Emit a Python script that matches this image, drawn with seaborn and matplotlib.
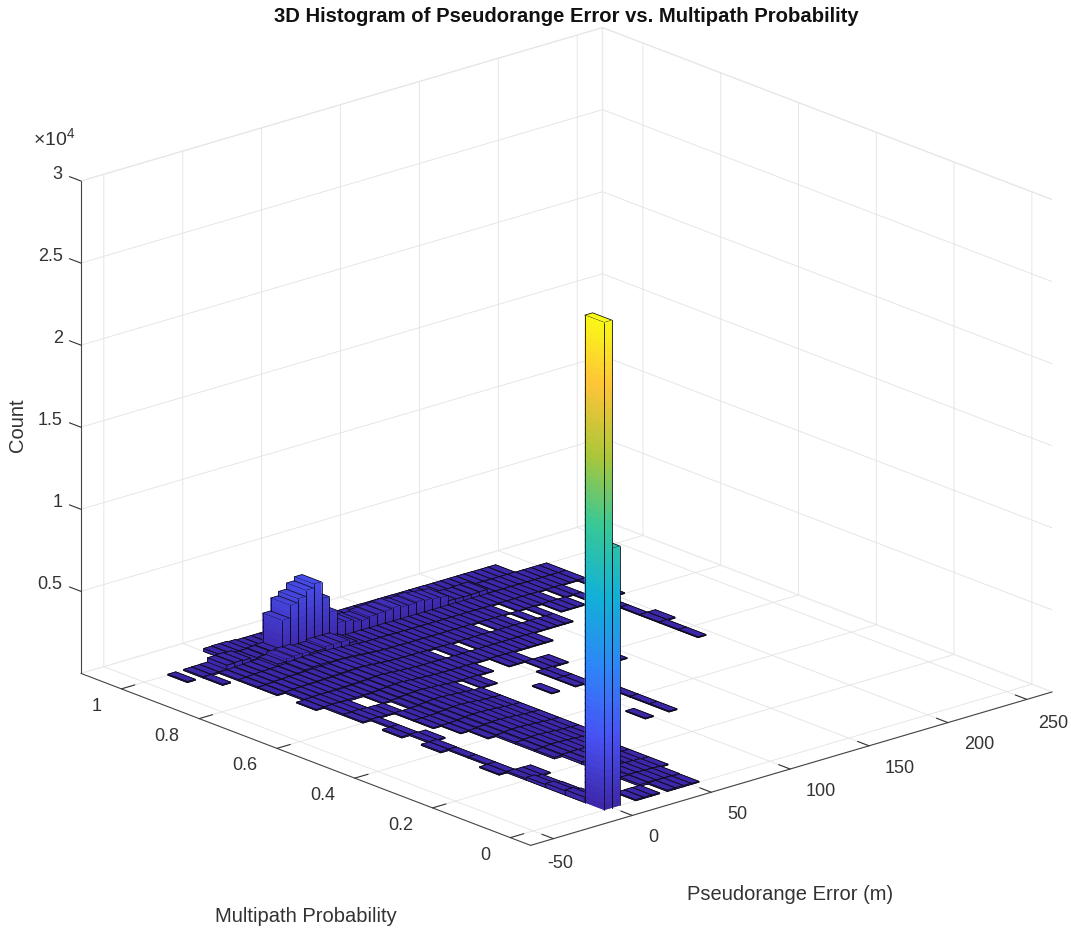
import numpy as np
import matplotlib
matplotlib.use("Agg")
import matplotlib.pyplot as plt
import matplotlib.transforms as mtransforms
import seaborn as sns

# Histogram bins: 5 m wide in error, 0.05 wide in probability
x_left = -50
x_bin = 5
y_bin = 0.05

# Counts per probability row, 60 error bins each
row_00 = [0,0,0,0,0,0,0,0,0,29700, 15800,0,0,60,70,60,0,70,80,70, 50,0,0,0,0,0,0,0,0,0, 0,0,0,0,0,0,0,0,0,0, 0,0,0,0,0,0,0,0,0,0, 0,0,0,0,0,0,0,0,0,0]
row_01 = [0,0,0,0,0,0,0,0,0,320, 150,0,0,0,0,0,100,120,110,90, 70,0,0,0,0,0,0,0,0,0, 0,0,0,0,0,0,0,0,0,0, 0,0,0,0,0,0,0,0,0,0, 0,0,0,0,0,0,0,0,0,0]
row_02 = [0,0,0,0,0,0,0,0,0,260, 110,0,0,0,0,0,110,130,120,100, 80,50,0,0,0,0,0,0,0,0, 0,0,0,0,0,0,0,0,0,0, 0,0,0,0,0,0,0,0,0,0, 0,0,0,0,0,0,0,0,0,0]
row_03 = [0,0,0,0,0,0,0,0,0,180, 80,0,0,0,0,0,120,140,130,110, 80,50,0,0,0,0,0,0,0,0, 0,0,0,0,0,0,0,0,0,0, 0,0,0,0,0,0,0,0,0,0, 0,0,0,0,0,0,0,0,0,0]
row_04 = [0,0,0,0,0,0,0,0,0,90, 70,60,0,0,0,0,130,150,130,110, 80,50,0,0,0,0,0,0,0,0, 0,0,0,0,0,0,0,0,0,0, 0,0,0,0,0,0,0,0,0,0, 0,0,0,0,0,0,0,0,0,0]
row_05 = [0,0,0,0,0,0,0,0,60,70, 0,0,0,0,0,90,140,160,140,110, 70,50,0,0,0,0,0,0,0,0, 0,0,0,0,0,0,0,0,0,0, 0,0,0,0,0,0,0,0,0,0, 0,0,0,0,0,0,0,0,0,0]
row_06 = [0,0,0,0,0,0,0,0,0,70, 0,0,0,0,0,100,140,170,150,120, 80,60,40,0,0,0,0,0,0,50, 0,0,50,0,0,0,0,0,0,0, 0,0,0,0,0,0,0,0,0,0, 0,0,0,0,0,0,0,0,0,0]
row_07 = [0,0,0,0,0,0,0,0,0,70, 0,0,0,0,0,100,150,170,150,120, 90,60,40,0,0,0,0,0,0,0, 0,0,50,0,0,0,0,0,0,0, 0,0,0,0,0,0,0,0,0,0, 0,0,0,0,0,0,0,0,0,0]
row_08 = [0,0,0,0,0,0,0,0,70,80, 0,0,0,0,60,110,150,180,160,130, 90,60,40,0,0,0,0,0,0,0, 0,0,50,0,0,0,0,0,0,0, 0,0,0,0,0,0,0,0,0,0, 0,0,0,0,0,0,0,0,0,0]
row_09 = [0,0,0,0,0,0,0,0,0,80, 60,0,0,50,70,110,160,180,160,130, 90,60,40,0,0,0,0,0,0,0, 0,50,50,0,0,0,0,0,0,0, 0,0,0,0,0,0,0,0,0,0, 0,0,0,0,0,0,0,0,0,0]
row_10 = [0,0,0,0,0,0,0,0,70,80, 0,0,60,60,70,120,160,190,170,130, 90,60,40,0,0,0,0,50,0,0, 50,50,0,0,0,0,0,0,0,0, 0,0,0,0,0,0,0,0,0,0, 0,0,0,0,0,0,0,0,0,0]
row_11 = [0,0,0,0,0,0,0,0,0,80, 0,0,60,60,70,120,170,190,170,130, 90,60,40,0,0,0,0,0,0,0, 50,50,0,0,0,0,0,0,50,0, 0,0,0,0,0,0,0,0,50,0, 0,0,0,0,0,0,0,0,0,0]
row_12 = [0,0,0,0,0,0,0,0,70,90, 70,60,50,0,80,130,170,200,170,140, 100,70,0,50,50,0,0,0,0,0, 0,50,50,50,0,0,0,0,0,0, 0,0,0,0,0,0,0,0,50,0, 0,0,0,0,0,0,0,0,0,0]
row_13 = [0,0,0,0,0,0,0,0,80,90, 70,0,0,60,90,140,180,210,180,140, 110,80,60,50,50,50,50,0,0,50, 50,50,0,0,0,0,0,0,0,0, 0,0,0,0,0,0,0,0,50,60, 0,0,0,0,0,0,0,0,0,0]
row_14 = [0,0,0,0,0,0,0,60,80,100, 100,90,90,100,120,150,190,220,190,150, 120,90,70,60,60,60,60,50,60,60, 60,60,60,50,50,50,50,0,0,0, 0,0,0,0,0,0,0,0,50,0, 0,0,0,0,0,0,0,0,0,0]
row_15 = [0,0,0,0,0,0,0,0,80,110, 120,120,130,140,160,180,210,230,200,160, 130,100,80,70,70,60,0,60,60,0, 60,60,60,60,60,60,50,50,50,50, 50,50,0,0,0,0,0,0,50,0, 0,0,0,0,0,0,0,0,0,0]
row_16 = [0,0,0,0,0,0,0,60,90,120, 140,150,170,190,210,230,250,260,230,190, 150,120,100,80,80,70,70,70,60,60, 60,60,60,60,0,50,50,50,0,50, 0,50,0,50,50,50,0,50,0,0, 50,0,0,0,0,0,0,0,0,0]
row_17 = [0,0,0,0,0,0,0,70,100,130, 150,170,200,260,300,320,300,300,280,240, 200,150,120,100,90,90,80,80,70,70, 70,70,60,60,60,60,60,50,50,0, 50,50,50,50,50,0,50,50,0,0, 50,0,0,0,0,0,0,0,0,0]
row_18 = [0,0,0,0,0,60,0,70,90,120, 150,160,300,450,500,500,400,400,500,500, 500,300,120,100,100,90,90,90,80,80, 80,70,70,70,60,60,60,60,60,60, 50,50,50,50,50,50,50,50,50,50, 50,0,0,0,0,0,0,0,0,0]
row_19 = [0,0,0,60,0,70,80,90,350,380, 350,200,200,250,300,2080,2860,3120,3490,3730, 2690,1710,920,850,700,650,750,780,800,860, 760,740,800,730,670,610,300,280,260,280, 300,60,60,60,60,60,60,50,50,50, 50,0,0,0,0,0,0,0,0,0]
row_20 = [0,0,0,0,0,0,0,0,0,0, 180,200,200,160,120,120,120,120,120,120, 110,110,100,100,100,100,100,90,90,90, 80,80,80,80,70,70,70,70,60,60, 60,60,60,60,50,50,50,0,0,0, 0,0,0,0,0,0,0,0,0,0]

x_ticks = [-50, 0, 50, 100, 150, 200, 250]
y_ticks = [0, 0.2, 0.4, 0.6, 0.8, 1]
z_ticks = [5000, 10000, 15000, 20000, 25000, 30000]
x_labels = ['-50', '0', '50', '100', '150', '200', '250']
y_labels = ['0', '0.2', '0.4', '0.6', '0.8', '1']
z_labels = ['0.5', '1', '1.5', '2', '2.5', '3']
x_limits = (-64.5, 266)
y_limits = (-0.052, 1.104)
z_limits = (0, 30000)

# parula
color_stops = [(.2422, .1504, .6603), (.2810, .3228, .9579), (.1786, .5289, .9682), (.0689, .6948, .8394),
               (.2161, .7843, .5923), (.6720, .7793, .2227), (.9970, .7659, .2199), (.9769, .9839, .0805)]


def main():
    sns.set_theme(style="white")
    plt.rcParams['font.family'] = ['Liberation Sans', 'DejaVu Sans']
    plt.rcParams['mathtext.fontset'] = 'custom'
    plt.rcParams['mathtext.rm'] = 'Liberation Sans'
    text_color = '#333333'
    grid_color = '#e4e4e4'

    counts = np.array([row_00, row_01, row_02, row_03, row_04, row_05, row_06, row_07, row_08, row_09, row_10,
                       row_11, row_12, row_13, row_14, row_15, row_16, row_17, row_18, row_19, row_20])
    cmap = sns.blend_palette(color_stops, n_colors=256, as_cmap=True)

    fig = plt.figure(figsize=(10.71, 9.32), dpi=100)
    ax = fig.add_axes([53 / 1071, -18 / 932, 1000 / 1071, 1000 / 932], projection='3d', computed_zorder=False)
    ax.set_proj_type('ortho')
    ax.view_init(elev=19.6, azim=-131.25)
    ax.set_box_aspect((1.006, 0.989, 0.758), zoom=1.072)

    # Every bar is cut into slices so its colour can follow the height
    step = 400
    xs, ys, zs, heights, faces, edges = [], [], [], [], [], []
    black = (0.05, 0.05, 0.1, 1)
    clear = (0, 0, 0, 0)
    for row, col in zip(*np.nonzero(counts)):
        total = counts[row, col]
        cuts = list(np.arange(0, total, step)) + [total]
        for low, high in zip(cuts[:-1], cuts[1:]):
            c = cmap(0.5 * (low + high) / z_limits[1])
            xs.append(x_left + col * x_bin)
            ys.append(row * y_bin)
            zs.append(low)
            faces += [c] * 6
            if len(cuts) == 2:
                heights.append(high - low)
                edges += [black] * 6
            else:
                # slices overlap a little so no seam shows between them
                heights.append(min(high + 60, total) - low)
                edge = [clear] * 6
                if high == total:
                    edge[1] = black
                edges += edge
    ax.bar3d(xs, ys, zs, x_bin, y_bin, heights, color=faces, edgecolor=edges, linewidth=0.55, shade=False, zorder=3)

    # Vertical edges of the sliced bars
    def height_at(r, c):
        if 0 <= r < counts.shape[0] and 0 <= c < counts.shape[1]:
            return counts[r, c]
        return 0

    for row, col in zip(*np.nonzero(counts > step)):
        top = counts[row, col]
        x0 = x_left + col * x_bin
        x1 = x0 + x_bin
        y0 = row * y_bin
        y1 = y0 + y_bin
        corners = [(x0, y0, max(height_at(row - 1, col), height_at(row - 1, col - 1))),
                   (x1, y0, max(height_at(row - 1, col), height_at(row - 1, col + 1))),
                   (x0, y1, max(height_at(row, col - 1), height_at(row + 1, col - 1)))]
        for cx, cy, start in corners:
            if start < top:
                ax.plot([cx, cx], [cy, cy], [start, top], color=black, lw=0.6, zorder=4)

    ax.set_xlim(*x_limits, view_margin=0)
    ax.set_ylim(*y_limits, view_margin=0)
    ax.set_zlim(*z_limits, view_margin=0)
    ax.set_xticks(x_ticks)
    ax.set_yticks(y_ticks)
    ax.set_zticks(z_ticks)
    ax.set_xticklabels(x_labels)
    ax.set_yticklabels(y_labels)
    ax.set_zticklabels(z_labels)

    for axis in (ax.xaxis, ax.yaxis, ax.zaxis):
        axis.pane.set_facecolor((1, 1, 1, 0))
        axis.pane.set_edgecolor(grid_color)
        axis.line.set_color('#444444')
        axis.line.set_linewidth(0.8)
        axis._axinfo['grid']['color'] = grid_color
        axis._axinfo['grid']['linewidth'] = 0.65
        axis._axinfo['tick']['inward_factor'] = 0
        axis._axinfo['tick']['outward_factor'] = 0.32
        axis._axinfo['tick']['linewidth'] = {True: 0.8, False: 0.8}
        axis._axinfo['tick']['color'] = '#444444'
    # z ticks run along the probability direction, as in the original
    ax.zaxis._get_tickdir = lambda pos: 1
    ax.tick_params(axis='both', labelsize=13, labelcolor=text_color, colors=text_color)
    ax.tick_params(axis='y', pad=6)
    ax.tick_params(axis='z', pad=0)

    # The 3D axis resets label transforms at draw time, so add the offset there (inches)
    def nudge(label, dx, dy):
        offset = mtransforms.ScaledTranslation(dx, dy, fig.dpi_scale_trans)
        set_transform = label.set_transform
        label.set_transform = lambda t: set_transform(t + offset)

    tick_texts = ax.get_xticklabels()
    for label in tick_texts[1:-1]:
        label.set_ha('left')
        nudge(label, 0.02, 0.065)
    tick_texts[-1].set_ha('left')
    nudge(tick_texts[-1], -0.03, 0.05)
    nudge(tick_texts[0], -0.07, 0.04)
    for label in ax.get_yticklabels():
        label.set_ha('right')
        label.set_va('bottom')
        nudge(label, 0, -0.02)
    for label in ax.get_zticklabels():
        label.set_ha('right')
        nudge(label, 0.025, 0.145)

    fig.text(566 / 1071, 1 - 16 / 932, '3D Histogram of Pseudorange Error vs. Multipath Probability',
             ha='center', va='center', fontsize=14.55, fontweight='bold', color='#111111')
    fig.text(790 / 1071, 1 - 895 / 932, 'Pseudorange Error (m)', ha='center', va='center',
             fontsize=14.5, color=text_color)
    fig.text(306 / 1071, 1 - 917 / 932, 'Multipath Probability', ha='center', va='center',
             fontsize=14.5, color=text_color)
    fig.text(18 / 1071, 1 - 425 / 932, 'Count', ha='center', va='center', rotation=90,
             fontsize=14.5, color=text_color)
    fig.text(33 / 1071, 1 - 138 / 932, r'$\mathregular{\times 10^{4}}$', ha='left', va='center',
             fontsize=14, color=text_color)

    fig.savefig('out.png', dpi=100)


if __name__ == "__main__":
    main()
